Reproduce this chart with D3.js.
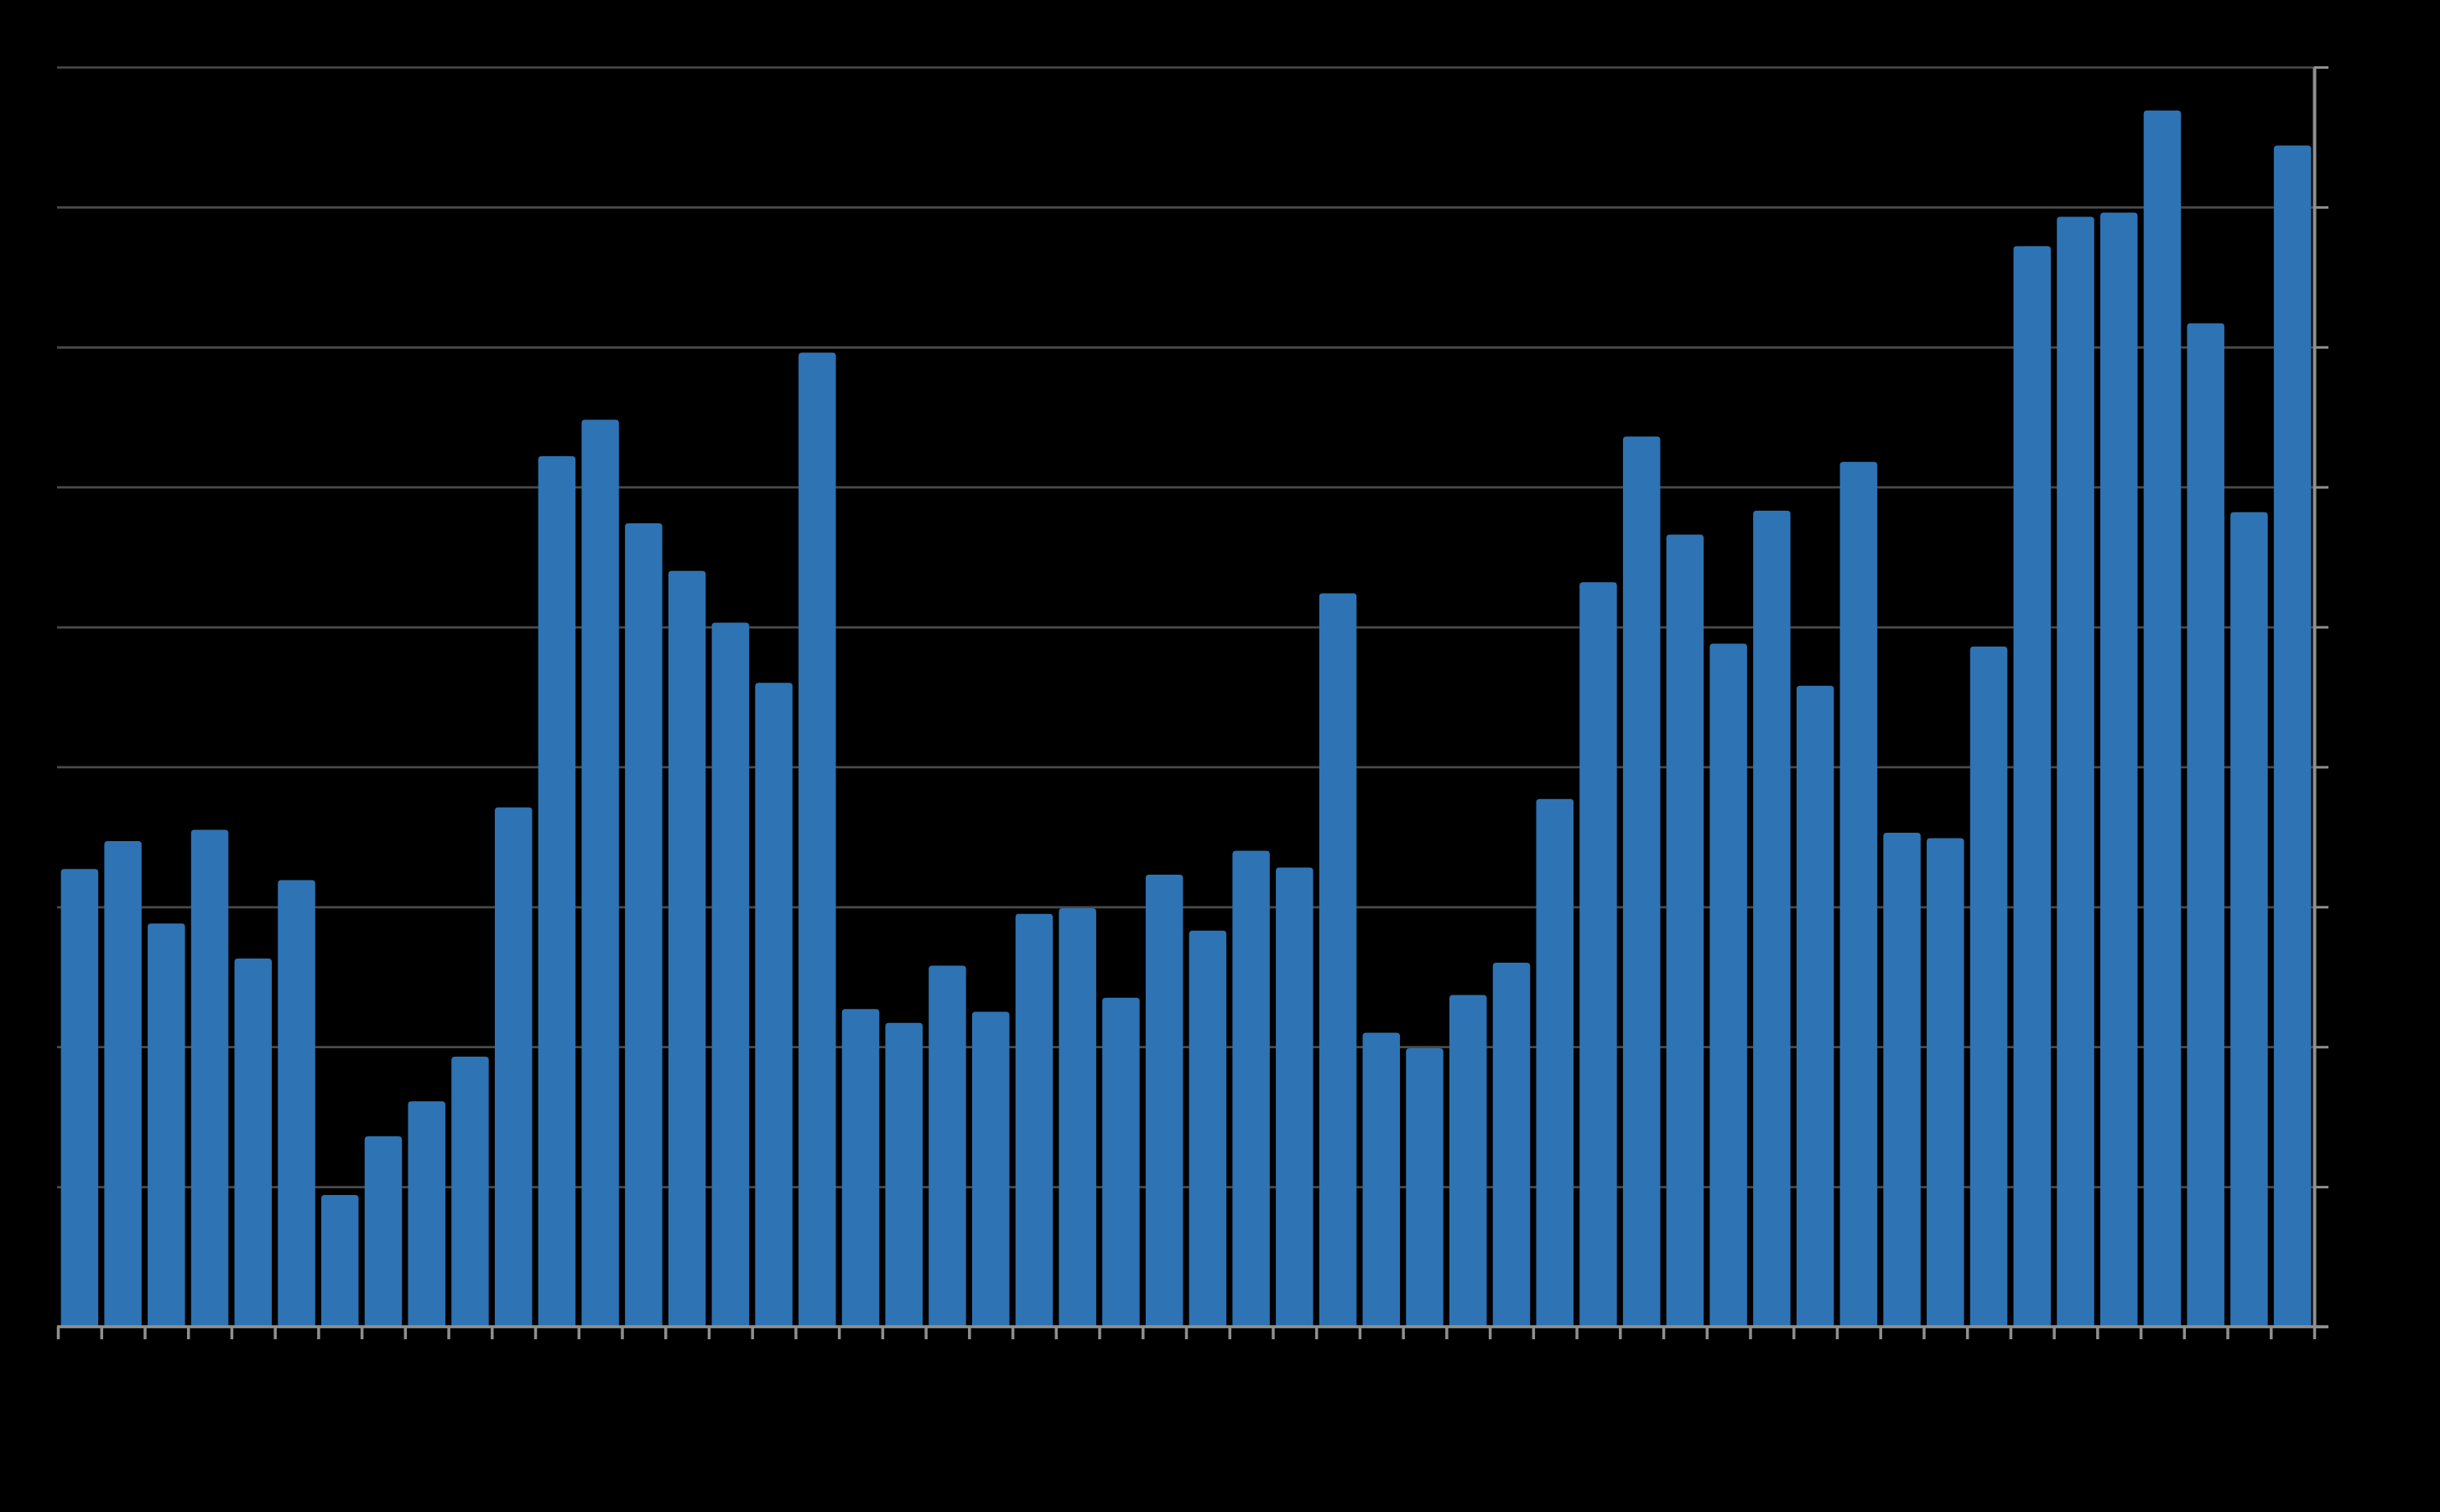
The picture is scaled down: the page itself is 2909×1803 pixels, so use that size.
<!DOCTYPE html>
<html>
<head>
<meta charset="utf-8">
<script src="https://cdn.jsdelivr.net/npm/d3@7/dist/d3.min.js"></script>
<style>
  html, body { margin: 0; padding: 0; background: #000; }
  svg { display: block; }
</style>
</head>
<body>
<script>
// ---- data ----
const categories = d3.range(1, 53).map(i => "C" + i);
const values = [
  32.7, 34.7, 28.8, 35.5, 26.3, 31.9, 9.4, 13.6, 16.1, 19.3,
  37.1, 62.2, 64.8, 57.4, 54.0, 50.3, 46.0, 69.6, 22.7, 21.7,
  25.8, 22.5, 29.5, 29.9, 23.5, 32.3, 28.3, 34.0, 32.8, 52.4,
  21.0, 19.9, 23.7, 26.0, 37.7, 53.2, 63.6, 56.6, 48.8, 58.3,
  45.8, 61.8, 35.3, 34.9, 48.6, 77.2, 79.3, 79.6, 86.9, 71.7,
  58.2, 84.4
];
const yTicks = [0, 10, 20, 30, 40, 50, 60, 70, 80, 90];

// ---- layout ----
const W = 2909, H = 1803;
const mLeft = 69, mRight = 2759, mTop = 80, mBottom = 1582;

const svg = d3.select("body").append("svg").attr("width", W).attr("height", H)
  .style("background", "#000");

const x = d3.scaleBand().domain(categories).range([mLeft, mRight]).padding(0);
const xEdge = d3.scaleLinear().domain([0, categories.length]).range([mLeft, mRight]);
const y = d3.scaleLinear().domain([0, 90]).range([mBottom, mTop]);

// gridlines
const grid = svg.append("g").attr("transform", `translate(${mRight},0)`)
  .call(d3.axisRight(y).tickValues(yTicks).tickSize(-(mRight - mLeft + 1)).tickFormat(""));
grid.select(".domain").remove();
grid.selectAll(".tick line").attr("stroke", "#4a4a4a").attr("stroke-width", 2.7);

// bars with rounded top corners
const frac = 0.86;
const rad = 4;
function barPath(x0, w, yTop, yBase) {
  const rr = Math.min(rad, w / 2, (yBase - yTop));
  return `M${x0},${yBase}V${yTop + rr}Q${x0},${yTop} ${x0 + rr},${yTop}` +
         `H${x0 + w - rr}Q${x0 + w},${yTop} ${x0 + w},${yTop + rr}V${yBase}Z`;
}
svg.append("g").selectAll("path").data(values).join("path")
  .attr("fill", "#2e73b4")
  .attr("d", (v, i) => {
    const bw = x.bandwidth() * frac;
    const x0 = x(categories[i]) + (x.bandwidth() - bw) / 2;
    return barPath(x0, bw, y(v), y(0));
  });

// bottom axis (ticks at band edges)
const xAxis = svg.append("g").attr("transform", `translate(0,${mBottom})`)
  .call(d3.axisBottom(xEdge).tickValues(d3.range(categories.length + 1)).tickSize(15).tickSizeOuter(0).tickFormat(""));
xAxis.select(".domain").attr("stroke", "#8f8f8f").attr("stroke-width", 3.5)
  .attr("d", `M${mLeft - 1},0H${mRight + 17}`);
xAxis.selectAll(".tick line").attr("stroke", "#8f8f8f").attr("stroke-width", 3.5);

// right axis
const yAxis = svg.append("g").attr("transform", `translate(${mRight},0)`)
  .call(d3.axisRight(y).tickValues(yTicks).tickSize(17).tickSizeOuter(0).tickFormat(""));
yAxis.select(".domain").attr("stroke", "#8f8f8f").attr("stroke-width", 4);
yAxis.selectAll(".tick line").attr("stroke", "#8f8f8f").attr("stroke-width", 3);
</script>
</body>
</html>
